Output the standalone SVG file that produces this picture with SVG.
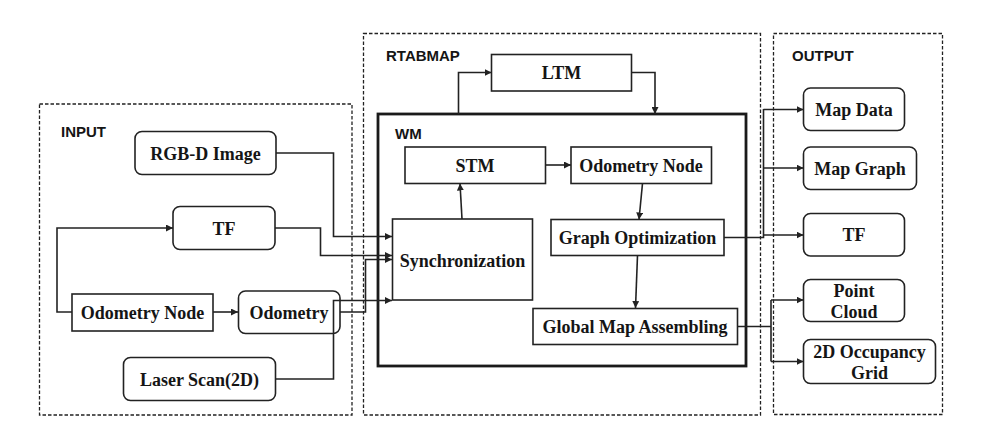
<svg xmlns="http://www.w3.org/2000/svg" width="987" height="439" viewBox="0 0 987 439">
<defs>
<style>
.grp{fill:none;stroke:#222;stroke-width:1.3;stroke-dasharray:3.5,2}
.box{fill:#fff;stroke:#222;stroke-width:1.6}
.wm{fill:none;stroke:#1a1a1a;stroke-width:2.8}
.lbl{font-family:"Liberation Serif","Times New Roman",serif;font-weight:bold;font-size:18px;fill:#151515;text-anchor:middle}
.sec{font-family:"Liberation Sans",Arial,sans-serif;font-weight:bold;font-size:15px;fill:#151515}
.ln{fill:none;stroke:#222;stroke-width:1.6}
.ar{fill:none;stroke:#222;stroke-width:1.6;marker-end:url(#ah)}
</style>
<marker id="ah" viewBox="0 0 10 10" refX="10" refY="5" markerWidth="7" markerHeight="7" markerUnits="userSpaceOnUse" orient="auto">
<path d="M0,0 L10,5 L0,10 z" fill="#222"/>
</marker>
</defs>
<rect width="987" height="439" fill="#fff"/>

<g id="groups">
<rect class="grp" x="39.5" y="104" width="312.5" height="311"/>
<text class="sec" x="61" y="137">INPUT</text>
<rect class="grp" x="363.5" y="33.5" width="397" height="381.5"/>
<text class="sec" x="386" y="61">RTABMAP</text>
<rect class="grp" x="773.5" y="33.5" width="169" height="381"/>
<text class="sec" x="792" y="61">OUTPUT</text>
</g>

<g id="wm">
<rect class="wm" x="378" y="114" width="368" height="252"/>
<text class="sec" x="395" y="139">WM</text>
</g>

<g id="rgbd"><rect class="box" x="135" y="131.5" width="141" height="43" rx="7"/><text class="lbl" x="205.5" y="159.5">RGB-D Image</text></g>
<g id="tf-in"><rect class="box" x="173" y="206.5" width="102" height="43" rx="7"/><text class="lbl" x="224" y="234.5">TF</text></g>
<g id="odom-node-in"><rect class="box" x="72" y="294" width="141" height="37"/><text class="lbl" x="142.5" y="318.5">Odometry Node</text></g>
<g id="odometry"><rect class="box" x="238.5" y="291" width="101.5" height="42.5" rx="7"/><text class="lbl" x="289" y="318.5">Odometry</text></g>
<g id="laser"><rect class="box" x="123.5" y="357.5" width="152" height="43" rx="7"/><text class="lbl" x="199.5" y="385.5">Laser Scan(2D)</text></g>

<g id="ltm"><rect class="box" x="491.5" y="54.5" width="140" height="36.5"/><text class="lbl" x="561.5" y="79">LTM</text></g>
<g id="stm"><rect class="box" x="405" y="147" width="140.5" height="36.5"/><text class="lbl" x="475" y="171.5">STM</text></g>
<g id="odom-node-wm"><rect class="box" x="571" y="147" width="140.5" height="36.5"/><text class="lbl" x="641" y="171.5">Odometry Node</text></g>
<g id="sync"><rect class="box" x="392.5" y="219" width="140" height="81"/><text class="lbl" x="462.5" y="267">Synchronization</text></g>
<g id="graph-opt"><rect class="box" x="551" y="219.5" width="173" height="36"/><text class="lbl" x="637.5" y="244">Graph Optimization</text></g>
<g id="global-map"><rect class="box" x="533" y="308.5" width="204.5" height="36"/><text class="lbl" x="635" y="333">Global Map Assembling</text></g>

<g id="map-data"><rect class="box" x="803.5" y="88" width="101" height="42.5" rx="7"/><text class="lbl" x="854" y="115.5">Map Data</text></g>
<g id="map-graph"><rect class="box" x="803.5" y="147" width="113" height="42.5" rx="7"/><text class="lbl" x="860" y="174.5">Map Graph</text></g>
<g id="tf-out"><rect class="box" x="803.5" y="213.5" width="101" height="42.5" rx="7"/><text class="lbl" x="854" y="241">TF</text></g>
<g id="point-cloud"><rect class="box" x="803.5" y="279.5" width="101" height="42" rx="7"/><text class="lbl" x="854" y="297">Point</text><text class="lbl" x="854" y="318">Cloud</text></g>
<g id="occupancy"><rect class="box" x="803.5" y="339.5" width="132" height="44" rx="7"/><text class="lbl" x="869.5" y="358">2D Occupancy</text><text class="lbl" x="869.5" y="379">Grid</text></g>

<g id="connectors">
<path class="ar" d="M72,312 H57 V228 H173"/>
<path class="ar" d="M213,312 H238"/>
<path class="ar" d="M276,153 H333.5 V236.5 H392"/>
<path class="ar" d="M275,228 H320.5 V255.5 H392"/>
<path class="ar" d="M340,312 H365.5 V259.5 H392"/>
<path class="ar" d="M275.5,379 H333.5 V300.5 H392"/>
<path class="ar" d="M458.5,114 V72.5 H491.5"/>
<path class="ar" d="M631.5,72.5 H655 V114"/>
<path class="ar" d="M462,219 L460,183.5"/>
<path class="ar" d="M545.5,165 H571"/>
<path class="ar" d="M642.5,183.5 L639,219.5"/>
<path class="ar" d="M637.5,255.5 L635.5,308"/>
<path class="ln" d="M724,237.5 H763.5 V109"/>
<path class="ar" d="M763.5,109.5 H803.5"/>
<path class="ar" d="M763.5,168 H803.5"/>
<path class="ar" d="M763.5,235 H803.5"/>
<path class="ln" d="M737.5,326.5 H771 M771,300 V361.5"/>
<path class="ar" d="M771,300 H803.5"/>
<path class="ar" d="M771,361.5 H803.5"/>
</g>
</svg>
